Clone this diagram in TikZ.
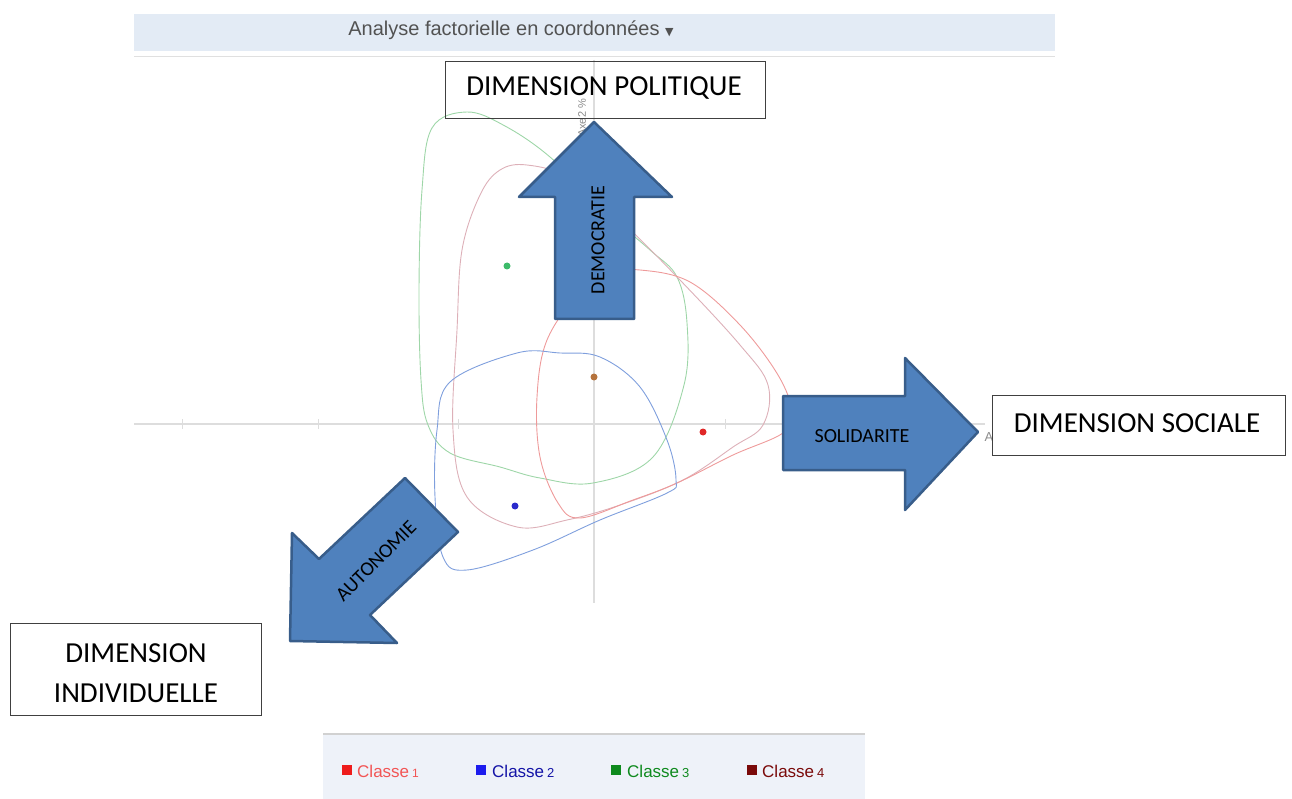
\documentclass[tikz,border=0pt]{standalone}
\usepackage{fontspec}
\setmainfont{Carlito}
\newfontfamily\arial{Liberation Sans}
\newfontfamily\dejavu{DejaVu Sans}
\definecolor{hdr}{HTML}{E3EBF5}
\definecolor{legbg}{HTML}{EEF2F9}
\definecolor{axisgray}{HTML}{DDDDDD}
\definecolor{arrfill}{HTML}{4F81BD}
\definecolor{arrdraw}{HTML}{385D8A}
\definecolor{cgreen}{HTML}{9ED6A8}
\definecolor{cpink}{HTML}{DDB0B8}
\definecolor{cred}{HTML}{EE9A9A}
\definecolor{cblue}{HTML}{7F9FDD}
\definecolor{dgreen}{HTML}{3DBB6A}
\definecolor{dbrown}{HTML}{B5733D}
\definecolor{dred}{HTML}{E02828}
\definecolor{dblue}{HTML}{2A2ACC}
\definecolor{lred}{HTML}{EE1C1C}
\definecolor{lblue}{HTML}{1C1CEE}
\definecolor{lgreen}{HTML}{0E8A1E}
\definecolor{lbrown}{HTML}{7A0A0A}
\begin{document}
\begin{tikzpicture}[x=1pt,y=-1pt,
  dimbox/.style={draw=black!75,line width=1pt,align=center,font=\fontsize{29}{40}\selectfont,inner sep=0pt},
  blockarrow/.style={fill=arrfill,draw=arrdraw,line width=2.5pt,line join=round},
  arrtext/.style={font=\fontsize{20}{24}\selectfont,inner sep=0pt},
  cluster/.style={line width=0.9pt,smooth cycle,tension=0.6},
  dot/.style={circle,inner sep=0pt,minimum size=7pt},
  legtext/.style={font=\arial\fontsize{17}{18}\selectfont,anchor=west,inner sep=0pt},
  legsq/.style={minimum size=10pt,inner sep=0pt}]
\useasboundingbox (0,0) rectangle (1292,799);
% header bar
\fill[hdr] (134,14) rectangle (1055,51);
\draw[black!12,line width=1pt] (134,57) -- (1055,57);
\node[font=\arial\fontsize{20}{22}\selectfont,text=black!68,inner sep=0pt] (title) at (511,30) {Analyse factorielle en coordonnées {\dejavu\fontsize{11}{12}\selectfont ▼}};
% axes
\draw[axisgray,line width=1.3pt] (134,424) -- (985,424);
\draw[axisgray,line width=1.3pt] (594,60) -- (594,603);
\foreach \t in {182,318,458,725,865}{\draw[axisgray,line width=1pt] (\t,419) -- (\t,429);}
\node[rotate=90,font=\arial\fontsize{11}{12}\selectfont,text=black!45,inner sep=0pt] (axe2) at (582,118) {Axe2 \%};
\node[font=\arial\fontsize{13}{14}\selectfont,text=black!45,inner sep=0pt] (axe1) at (989,437) {A};
% clusters
\draw[cgreen,cluster] plot coordinates {(467,112) (505,126) (550,157) (600,207) (650,250) (677,277) (687,323) (684,385) (653,457) (593,483) (540,478) (500,467) (450,453) (428,425) (421,380) (419,290) (422,190) (432,128)};
\draw[cpink,cluster] plot coordinates {(527,165) (570,178) (620,220) (680,280) (740,345) (768,385) (763,425) (733,447) (683,480) (620,505) (567,520) (517,527) (467,497) (453,430) (457,330) (462,250) (480,195) (500,170)};
\draw[cred,cluster] plot coordinates {(640,270) (690,282) (740,325) (778,375) (792,412) (783,433) (733,455) (677,483) (633,500) (580,518) (558,503) (540,457) (537,397) (547,340) (580,292) (610,274)};
\draw[cblue,cluster] plot coordinates {(517,353) (560,353) (600,357) (640,387) (667,440) (676,480) (667,493) (600,520) (533,550) (467,570) (443,557) (435,497) (437,430) (450,382)};
% dots
\node[dot,fill=dgreen] (c3) at (507,266) {};
\node[dot,fill=dbrown] (c4) at (594,377) {};
\node[dot,fill=dred] (c1) at (703,432) {};
\node[dot,fill=dblue] (c2) at (515,506) {};
% boxes
\node[dimbox,minimum width=320pt,minimum height=57pt] (pol) at (605,90.5) {};
\node[font=\fontsize{29}{40}\selectfont,inner sep=0pt] (poltxt) at (604,88) {DIMENSION POLITIQUE};
\node[dimbox,minimum width=293pt,minimum height=60pt] (soc) at (1138.5,425) {};
\node[font=\fontsize{29}{40}\selectfont,inner sep=0pt] (soctxt) at (1137,423) {DIMENSION SOCIALE};
\node[dimbox,minimum width=251pt,minimum height=92pt] (ind) at (135.5,669) {};
\node[font=\fontsize{29}{40}\selectfont,inner sep=0pt,align=center] (indtxt) at (136,673) {DIMENSION\\INDIVIDUELLE};
% up arrow
\draw[blockarrow] (594,122) -- (672,197) -- (634,197) -- (634,319) -- (555,319) -- (555,197) -- (519,197) -- cycle;
\node[arrtext,rotate=90] (dem) at (598,240) {DEMOCRATIE};
% right arrow
\draw[blockarrow] (978,432) -- (905,510) -- (905,470) -- (783,470) -- (783,396) -- (905,396) -- (905,358) -- cycle;
\node[arrtext] (sol) at (862,436) {SOLIDARITE};
% diagonal arrow
\draw[blockarrow] (290,641) -- (292,533) -- (319,559) -- (405,478) -- (458,532) -- (370,615) -- (397,643) -- cycle;
\node[arrtext,rotate=45] (aut) at (376,561) {AUTONOMIE};
% legend
\fill[legbg] (323,733) rectangle (865,799);
\draw[black!18,line width=1.5pt] (323,734) -- (865,734);
\node[legsq,fill=lred] (s1) at (347,770) {};
\node[legtext,text=lred!75] (l1) at (357,771) {Classe\,{\fontsize{12}{12}\selectfont 1}};
\node[legsq,fill=lblue] (s2) at (481,770) {};
\node[legtext,text=lblue!70!black] (l2) at (492,771) {Classe\,{\fontsize{13}{12}\selectfont 2}};
\node[legsq,fill=lgreen] (s3) at (616,770) {};
\node[legtext,text=lgreen] (l3) at (627,771) {Classe\,{\fontsize{13}{12}\selectfont 3}};
\node[legsq,fill=lbrown] (s4) at (752,770) {};
\node[legtext,text=lbrown] (l4) at (762,771) {Classe\,{\fontsize{13}{12}\selectfont 4}};
\end{tikzpicture}
\end{document}
